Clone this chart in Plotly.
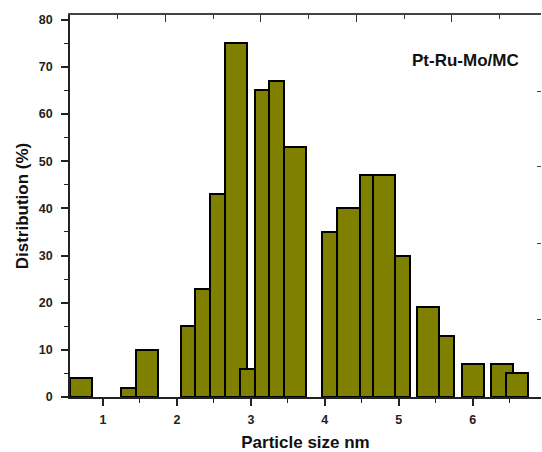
import plotly.graph_objects as go

# Bar extents (particle size, nm) and heights (%)
bin_left = [0.55, 1.25, 1.45, 2.05, 2.25, 2.45, 2.65, 2.85, 3.05, 3.25, 3.45,
            3.96, 4.16, 4.47, 4.65, 4.95, 5.25, 5.55, 5.85, 6.25, 6.45]
bin_right = [0.85, 1.45, 1.75, 2.25, 2.45, 2.65, 2.95, 3.05, 3.25, 3.45, 3.75,
             4.16, 4.47, 4.65, 4.95, 5.15, 5.55, 5.75, 6.15, 6.55, 6.75]
distribution = [4, 2, 10, 15, 23, 43, 75, 6, 65, 67, 53,
                35, 40, 47, 47, 30, 19, 13, 7, 7, 5]

x_ticks = [1, 2, 3, 4, 5, 6]
x_minor = [1.5, 2.5, 3.5, 4.5, 5.5, 6.5]
y_ticks = [0, 10, 20, 30, 40, 50, 60, 70, 80]
y_minor = [5, 15, 25, 35, 45, 55, 65, 75]
top_major = [1.848, 3.137, 4.422, 5.716]
top_minor = [1.203, 2.492, 3.786, 5.075, 6.360]
right_ticks = [16.4, 32.5, 48.8, 64.7]

centers = [(a + b) / 2 for a, b in zip(bin_left, bin_right)]
widths = [b - a for a, b in zip(bin_left, bin_right)]

FONT = "Liberation Sans, Arial, sans-serif"

fig = go.Figure()
fig.add_trace(go.Bar(
    x=centers, y=distribution, width=widths,
    marker=dict(color="#808000", line=dict(color="black", width=2)),
    showlegend=False,
))
# invisible helper traces for the top / right frame axes
fig.add_trace(go.Scatter(x=[None], y=[None], xaxis="x2", yaxis="y2",
                         showlegend=False, hoverinfo="skip"))

fig.update_layout(
    width=542, height=452,
    margin=dict(l=70, r=1, t=15, b=55),
    plot_bgcolor="white", paper_bgcolor="white",
    font=dict(family=FONT, color="#222"),
    bargap=0,
    xaxis=dict(
        range=[0.554, 6.924], tickvals=x_ticks, ticks="outside", ticklen=7,
        tickwidth=1.5, tickcolor="#222", ticklabelstandoff=3,
        minor=dict(tickvals=x_minor, ticks="outside", ticklen=4, tickwidth=1.2, tickcolor="#222"),
        showline=True, linecolor="#222", linewidth=1.5, showgrid=False, zeroline=False,
        tickfont=dict(size=12.5, weight="bold", family=FONT, color="#222"),
        title=dict(text="Particle size nm", font=dict(size=17, weight="bold", family=FONT, color="#111"),
                   standoff=10),
    ),
    yaxis=dict(
        range=[0, 81], tickvals=y_ticks, ticks="outside", ticklen=7,
        tickwidth=1.5, tickcolor="#222", ticklabelstandoff=6,
        minor=dict(tickvals=y_minor, ticks="outside", ticklen=4, tickwidth=1.2, tickcolor="#222"),
        showline=True, linecolor="#222", linewidth=1.5, showgrid=False, zeroline=False,
        tickfont=dict(size=12.5, weight="bold", family=FONT, color="#222"),
        title=dict(text="Distribution (%)", font=dict(size=17, weight="bold", family=FONT, color="#111"),
                   standoff=6),
    ),
    xaxis2=dict(
        overlaying="x", side="top", range=[0.554, 6.924], tickvals=top_major,
        ticks="inside", ticklen=7, tickwidth=1.2, tickcolor="#333",
        minor=dict(tickvals=top_minor, ticks="inside", ticklen=4, tickwidth=1.2, tickcolor="#333"),
        showticklabels=False, showline=True, linecolor="#444", linewidth=1.5,
        showgrid=False, zeroline=False,
    ),
    yaxis2=dict(
        overlaying="y", side="right", range=[0, 81], tickvals=right_ticks,
        ticks="inside", ticklen=4, tickwidth=1.2, tickcolor="#444",
        showticklabels=False, showline=False, showgrid=False, zeroline=False,
    ),
    annotations=[dict(
        x=5.909, y=71.45, xref="x", yref="y", text="Pt-Ru-Mo/MC", showarrow=False,
        font=dict(size=17, weight="bold", family=FONT, color="#111"),
    )],
)

fig.write_html("out.html")
